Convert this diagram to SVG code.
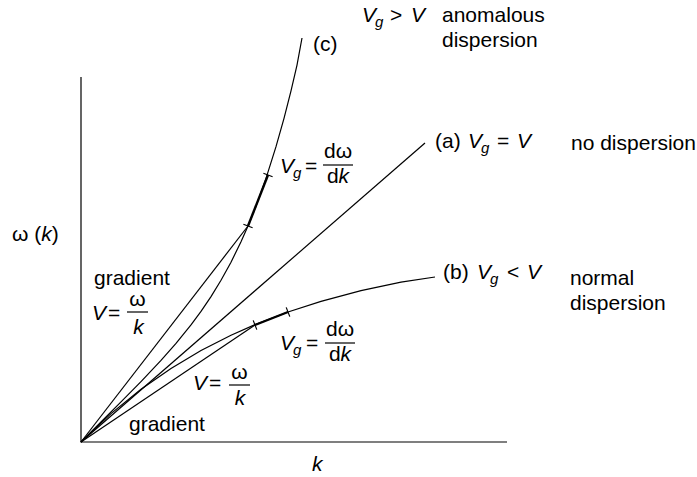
<svg xmlns="http://www.w3.org/2000/svg" width="697" height="477" viewBox="0 0 697 477">
<style>
text{font-family:"Liberation Sans",Arial,sans-serif;font-size:21px;fill:#000}
.i{font-style:italic}
.s{font-size:15px;font-style:italic}
.m{text-anchor:middle}
.ln{fill:none;stroke:#000;stroke-width:1.2}
.th{fill:none;stroke:#000;stroke-width:2.4}
</style>
<rect width="697" height="477" fill="#fff"/>
<g id="axes">
<path class="ln" d="M81,77 V442 H507"/>
</g>
<g id="connectors">
<path id="curve-c" class="ln" d="M81,442 L101,422 L121,401.9 L141,381.6 L161,360.4 L176,343.4 L191,324.9 L201,311.4 L211,296.6 L221,280.3 L231,262.2 L241,241.8 L248,226 L256,206.2 L266,178.4 L276,146.7 L284,118.3 L291,90.8 L297,65.1 L302,38"/>
<path id="line-a" class="ln" d="M81,442 L425,143"/>
<path id="curve-b" class="ln" d="M81,442 L111,413.6 L141,389.2 L171,368.4 L201,350.5 L231,335.2 L255,324.6 L288,312 L321,301.4 L361,290.7 L401,282.1 L435,277"/>
<path id="chord-c" class="ln" d="M81,442 L248,226"/>
<path id="chord-b" class="ln" d="M81,442 L255,325"/>
<path id="tangent-c" class="th" d="M248,226 L268,175"/>
<path id="tangent-b" class="th" d="M255,325 L288,312"/>
<path id="ticks" class="ln" d="M243.4,224.2 L252.6,227.8 M263.4,173.2 L272.6,176.8 M253.2,320.4 L256.8,329.6 M286.2,307.4 L289.8,316.6"/>
</g>
<g id="label-c">
<text x="313" y="51">(c)</text>
<text x="362" y="22" class="i">V</text><text x="375" y="27" class="s">g</text><text x="390" y="22">&gt;</text><text x="411" y="22" class="i">V</text>
<text x="442" y="22">anomalous</text>
<text x="442" y="47">dispersion</text>
</g>
<g id="label-a">
<text x="435" y="148">(a)</text>
<text x="468" y="148" class="i">V</text><text x="481" y="153" class="s">g</text><text x="497" y="148">=</text><text x="517" y="148" class="i">V</text>
<text x="571" y="150">no dispersion</text>
</g>
<g id="label-b">
<text x="443" y="279">(b)</text>
<text x="477" y="279" class="i">V</text><text x="490" y="284" class="s">g</text><text x="507" y="279">&lt;</text><text x="527" y="279" class="i">V</text>
<text x="570" y="285">normal</text>
<text x="570" y="310">dispersion</text>
</g>
<g id="vg-upper">
<text x="280" y="173" class="i">V</text><text x="293" y="178" class="s">g</text><text x="305" y="173">=</text>
<path class="ln" d="M323,165 H353"/>
<text x="338" y="158" class="m">dω</text>
<text x="338" y="183" class="m">d<tspan class="i">k</tspan></text>
</g>
<g id="vg-lower">
<text x="280" y="350" class="i">V</text><text x="293" y="355" class="s">g</text><text x="306" y="350">=</text>
<path class="ln" d="M325,343 H355"/>
<text x="340" y="336" class="m">dω</text>
<text x="340" y="361" class="m">d<tspan class="i">k</tspan></text>
</g>
<g id="gradient-upper">
<text x="94" y="285">gradient</text>
<text x="92" y="320" class="i">V</text><text x="108" y="320">=</text>
<path class="ln" d="M127,312 H148"/>
<text x="137.5" y="306" class="m">ω</text>
<text x="138.5" y="334" class="m i">k</text>
</g>
<g id="gradient-lower">
<text x="193" y="390" class="i">V</text><text x="209" y="390">=</text>
<path class="ln" d="M229,385 H250"/>
<text x="239.5" y="379" class="m">ω</text>
<text x="240" y="405" class="m i">k</text>
<text x="129" y="431">gradient</text>
</g>
<g id="axis-labels">
<text x="12" y="241">ω (<tspan class="i">k</tspan>)</text>
<text x="312" y="471" class="i">k</text>
</g>
</svg>
